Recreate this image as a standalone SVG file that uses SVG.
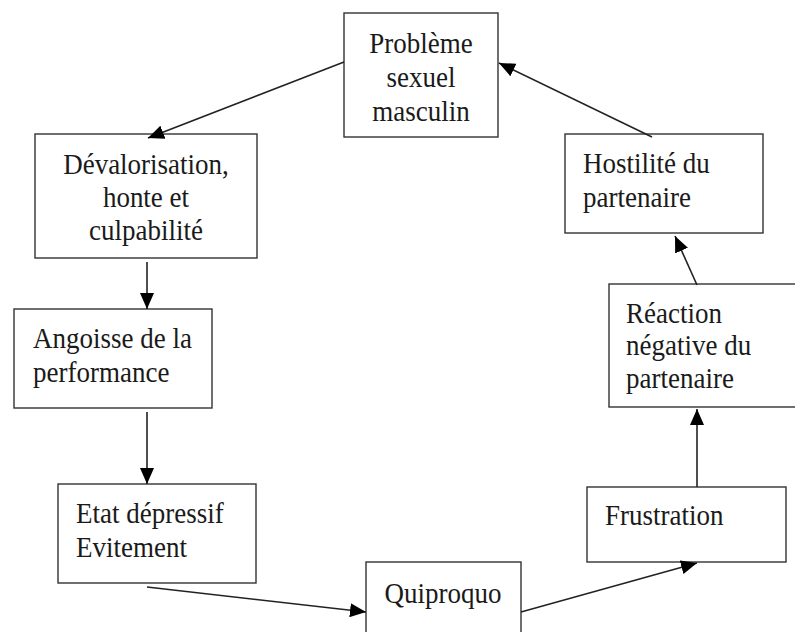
<svg xmlns="http://www.w3.org/2000/svg" width="795" height="632" viewBox="0 0 795 632">
<style>
.box{fill:#fff;stroke:#333;stroke-width:1.4}
.t{font-family:"Liberation Serif","Times New Roman",serif;font-size:27px;fill:#1a1a1a}
.c{text-anchor:middle}
.ln{stroke:#222;stroke-width:1.6;fill:none;marker-end:url(#ah)}
</style>
<defs>
<marker id="ah" markerUnits="userSpaceOnUse" markerWidth="17" markerHeight="14" refX="16" refY="7" orient="auto">
<path d="M0,0 L16,7 L0,14 z" fill="#000"/>
</marker>
</defs>
<rect width="795" height="632" fill="#fff"/>
<g id="n1"><rect class="box" x="344" y="13" width="154" height="124"/>
<text class="t c" x="421" y="53" transform="matrix(1,0,0,1.12,0,-6.36)">Problème</text><text class="t c" x="421" y="87" transform="matrix(1,0,0,1.12,0,-10.44)">sexuel</text><text class="t c" x="421" y="121" transform="matrix(1,0,0,1.12,0,-14.52)">masculin</text></g>
<g id="n2"><rect class="box" x="35" y="134" width="222" height="124"/>
<text class="t c" x="146" y="174" transform="matrix(1,0,0,1.12,0,-20.88)">Dévalorisation,</text><text class="t c" x="146" y="207" transform="matrix(1,0,0,1.12,0,-24.84)">honte et</text><text class="t c" x="146" y="240" transform="matrix(1,0,0,1.12,0,-28.8)">culpabilité</text></g>
<g id="n3"><rect class="box" x="14" y="309" width="198" height="99"/>
<text class="t" x="33" y="348" transform="matrix(1,0,0,1.12,0,-41.76)">Angoisse de la</text><text class="t" x="33" y="382" transform="matrix(1,0,0,1.12,0,-45.84)">performance</text></g>
<g id="n4"><rect class="box" x="58" y="484" width="198" height="99"/>
<text class="t" x="76" y="523" transform="matrix(1,0,0,1.12,0,-62.76)">Etat dépressif</text><text class="t" x="76" y="557" transform="matrix(1,0,0,1.12,0,-66.84)">Evitement</text></g>
<g id="n5"><rect class="box" x="366" y="562" width="155" height="80"/>
<text class="t c" x="443" y="603" transform="matrix(1,0,0,1.12,0,-72.36)">Quiproquo</text></g>
<g id="n6"><rect class="box" x="587" y="487" width="199" height="75"/>
<text class="t" x="605" y="525" transform="matrix(1,0,0,1.12,0,-63)">Frustration</text></g>
<g id="n7"><rect class="box" x="609" y="284" width="190" height="123"/>
<text class="t" x="626" y="323" transform="matrix(1,0,0,1.12,0,-38.76)">Réaction</text><text class="t" x="626" y="355" transform="matrix(1,0,0,1.12,0,-42.6)">négative du</text><text class="t" x="626" y="388" transform="matrix(1,0,0,1.12,0,-46.56)">partenaire</text></g>
<g id="n8"><rect class="box" x="565" y="134" width="198" height="99"/>
<text class="t" x="583" y="173" transform="matrix(1,0,0,1.12,0,-20.76)">Hostilité du</text><text class="t" x="583" y="207" transform="matrix(1,0,0,1.12,0,-24.84)">partenaire</text></g>
<g id="edges">
<line class="ln" x1="344" y1="62" x2="148" y2="138"/>
<line class="ln" x1="147" y1="262" x2="147" y2="309"/>
<line class="ln" x1="147" y1="412" x2="147" y2="484"/>
<line class="ln" x1="147" y1="587" x2="366" y2="612"/>
<line class="ln" x1="521" y1="612" x2="697" y2="563"/>
<line class="ln" x1="697" y1="487" x2="697" y2="409"/>
<line class="ln" x1="697" y1="285" x2="675" y2="236"/>
<line class="ln" x1="652" y1="137" x2="499" y2="63"/>
</g>
</svg>
